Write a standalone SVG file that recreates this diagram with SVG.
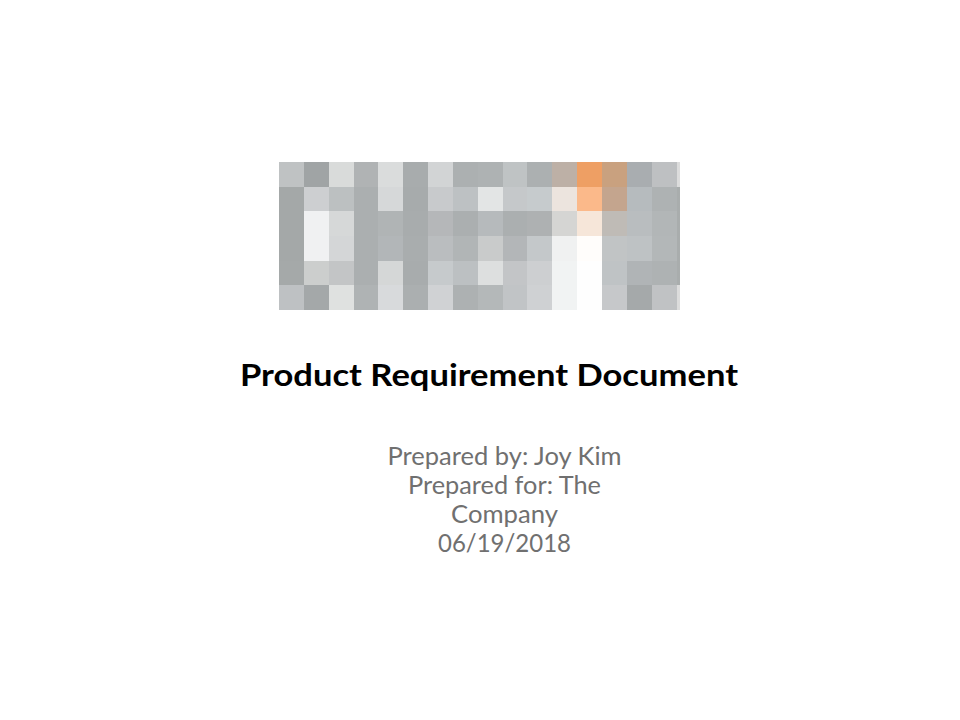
<svg xmlns="http://www.w3.org/2000/svg" width="960" height="720" viewBox="0 0 960 720">
<style>
rect{shape-rendering:crispEdges}
text{font-family:"Lato","Noto Sans",sans-serif}
.t{font-size:31px;font-weight:700;fill:#000}
.s{font-size:24.5px;font-weight:400;fill:#707070;text-anchor:middle}
</style>
<rect width="960" height="720" fill="#fff"/>
<g id="pixel-image">
<g id="r0">
<rect x="279" y="162" width="25" height="25" fill="#bfc2c3"/><rect x="304" y="162" width="25" height="25" fill="#a0a4a5"/><rect x="329" y="162" width="25" height="25" fill="#d9dbda"/><rect x="354" y="162" width="24" height="25" fill="#b0b3b4"/><rect x="378" y="162" width="25" height="25" fill="#dadcdc"/><rect x="403" y="162" width="25" height="25" fill="#a8acad"/><rect x="428" y="162" width="25" height="25" fill="#d2d4d5"/><rect x="453" y="162" width="25" height="25" fill="#acb0b1"/><rect x="478" y="162" width="25" height="25" fill="#aeb2b3"/><rect x="503" y="162" width="24" height="25" fill="#bfc3c4"/><rect x="527" y="162" width="25" height="25" fill="#acb0b1"/><rect x="552" y="162" width="25" height="25" fill="#bdb0a6"/><rect x="577" y="162" width="25" height="25" fill="#ee9f64"/><rect x="602" y="162" width="25" height="25" fill="#c9a17f"/><rect x="627" y="162" width="25" height="25" fill="#a9adb0"/><rect x="652" y="162" width="25" height="25" fill="#bec0c2"/><rect x="677" y="162" width="3" height="25" fill="#dcdcdc"/>
</g>
<g id="r1">
<rect x="279" y="187" width="25" height="24" fill="#a4a8a8"/><rect x="304" y="187" width="25" height="24" fill="#cdcfd1"/><rect x="329" y="187" width="25" height="24" fill="#bcc0c1"/><rect x="354" y="187" width="24" height="24" fill="#abafb0"/><rect x="378" y="187" width="25" height="24" fill="#d6d8d9"/><rect x="403" y="187" width="25" height="24" fill="#a7abac"/><rect x="428" y="187" width="25" height="24" fill="#c8cacc"/><rect x="453" y="187" width="25" height="24" fill="#bdc1c3"/><rect x="478" y="187" width="25" height="24" fill="#e3e5e5"/><rect x="503" y="187" width="24" height="24" fill="#c5c8ca"/><rect x="527" y="187" width="25" height="24" fill="#c6cbcd"/><rect x="552" y="187" width="25" height="24" fill="#ece4de"/><rect x="577" y="187" width="25" height="24" fill="#fbb98a"/><rect x="602" y="187" width="25" height="24" fill="#c4a58e"/><rect x="627" y="187" width="25" height="24" fill="#b6bbbe"/><rect x="652" y="187" width="25" height="24" fill="#aeb2b3"/><rect x="677" y="187" width="3" height="24" fill="#a9adad"/>
</g>
<g id="r2">
<rect x="279" y="211" width="25" height="25" fill="#a4a8a8"/><rect x="304" y="211" width="25" height="25" fill="#f0f1f2"/><rect x="329" y="211" width="25" height="25" fill="#d6d8d8"/><rect x="354" y="211" width="24" height="25" fill="#abafb0"/><rect x="378" y="211" width="25" height="25" fill="#b0b4b5"/><rect x="403" y="211" width="25" height="25" fill="#a8acad"/><rect x="428" y="211" width="25" height="25" fill="#b5b7b9"/><rect x="453" y="211" width="25" height="25" fill="#abafb0"/><rect x="478" y="211" width="25" height="25" fill="#b6babc"/><rect x="503" y="211" width="24" height="25" fill="#abafb0"/><rect x="527" y="211" width="25" height="25" fill="#aeb1b2"/><rect x="552" y="211" width="25" height="25" fill="#d5d5d3"/><rect x="577" y="211" width="25" height="25" fill="#f6e6d9"/><rect x="602" y="211" width="25" height="25" fill="#bfbbb6"/><rect x="627" y="211" width="25" height="25" fill="#b9bdbf"/><rect x="652" y="211" width="25" height="25" fill="#b2b6b7"/><rect x="677" y="211" width="3" height="25" fill="#a9adad"/>
</g>
<g id="r3">
<rect x="279" y="236" width="25" height="25" fill="#a4a8a8"/><rect x="304" y="236" width="25" height="25" fill="#f0f1f2"/><rect x="329" y="236" width="25" height="25" fill="#d4d6d7"/><rect x="354" y="236" width="24" height="25" fill="#abafb0"/><rect x="378" y="236" width="25" height="25" fill="#b2b6b8"/><rect x="403" y="236" width="25" height="25" fill="#a9adae"/><rect x="428" y="236" width="25" height="25" fill="#babdbf"/><rect x="453" y="236" width="25" height="25" fill="#b1b5b6"/><rect x="478" y="236" width="25" height="25" fill="#c9cbcb"/><rect x="503" y="236" width="24" height="25" fill="#b3b6b8"/><rect x="527" y="236" width="25" height="25" fill="#c4c8ca"/><rect x="552" y="236" width="25" height="25" fill="#f0f1f1"/><rect x="577" y="236" width="25" height="25" fill="#fffdfb"/><rect x="602" y="236" width="25" height="25" fill="#c1c4c5"/><rect x="627" y="236" width="25" height="25" fill="#bec2c4"/><rect x="652" y="236" width="25" height="25" fill="#b3b7b8"/><rect x="677" y="236" width="3" height="25" fill="#a9adad"/>
</g>
<g id="r4">
<rect x="279" y="261" width="25" height="24" fill="#a5a9a9"/><rect x="304" y="261" width="25" height="24" fill="#cccecd"/><rect x="329" y="261" width="25" height="24" fill="#c3c5c6"/><rect x="354" y="261" width="24" height="24" fill="#abafb0"/><rect x="378" y="261" width="25" height="24" fill="#d5d7d7"/><rect x="403" y="261" width="25" height="24" fill="#a8acad"/><rect x="428" y="261" width="25" height="24" fill="#c6cacc"/><rect x="453" y="261" width="25" height="24" fill="#bcc0c2"/><rect x="478" y="261" width="25" height="24" fill="#dddfdf"/><rect x="503" y="261" width="24" height="24" fill="#c3c5c7"/><rect x="527" y="261" width="25" height="24" fill="#cdcfd1"/><rect x="552" y="261" width="25" height="24" fill="#f1f3f3"/><rect x="577" y="261" width="25" height="24" fill="#fefefe"/><rect x="602" y="261" width="25" height="24" fill="#bfc3c5"/><rect x="627" y="261" width="25" height="24" fill="#b0b4b6"/><rect x="652" y="261" width="25" height="24" fill="#aeb2b3"/><rect x="677" y="261" width="3" height="24" fill="#a9adad"/>
</g>
<g id="r5">
<rect x="279" y="285" width="25" height="25" fill="#bec1c3"/><rect x="304" y="285" width="25" height="25" fill="#a4a8a9"/><rect x="329" y="285" width="25" height="25" fill="#dfe1e0"/><rect x="354" y="285" width="24" height="25" fill="#afb3b4"/><rect x="378" y="285" width="25" height="25" fill="#d8dadc"/><rect x="403" y="285" width="25" height="25" fill="#abafb0"/><rect x="428" y="285" width="25" height="25" fill="#d0d2d4"/><rect x="453" y="285" width="25" height="25" fill="#adb1b2"/><rect x="478" y="285" width="25" height="25" fill="#b4b8b9"/><rect x="503" y="285" width="24" height="25" fill="#c1c4c6"/><rect x="527" y="285" width="25" height="25" fill="#cfd1d3"/><rect x="552" y="285" width="25" height="25" fill="#f1f3f3"/><rect x="577" y="285" width="25" height="25" fill="#fefefe"/><rect x="602" y="285" width="25" height="25" fill="#c6c8ca"/><rect x="627" y="285" width="25" height="25" fill="#a5a9aa"/><rect x="652" y="285" width="25" height="25" fill="#c0c2c4"/><rect x="677" y="285" width="3" height="25" fill="#dcdcdc"/>
</g>
</g>
<text id="title" class="t" x="240" y="386" textLength="498" lengthAdjust="spacingAndGlyphs">Product Requirement Document</text>
<g id="subtitle">
<text class="s" x="504.5" y="464.5" textLength="234" lengthAdjust="spacingAndGlyphs">Prepared by: Joy Kim</text>
<text class="s" x="504.5" y="493.5" textLength="193" lengthAdjust="spacingAndGlyphs">Prepared for: The</text>
<text class="s" x="504.5" y="522.5" textLength="107" lengthAdjust="spacingAndGlyphs">Company</text>
<text class="s" x="504.5" y="551.5" textLength="133" lengthAdjust="spacingAndGlyphs">06/19/2018</text>
</g>
</svg>
